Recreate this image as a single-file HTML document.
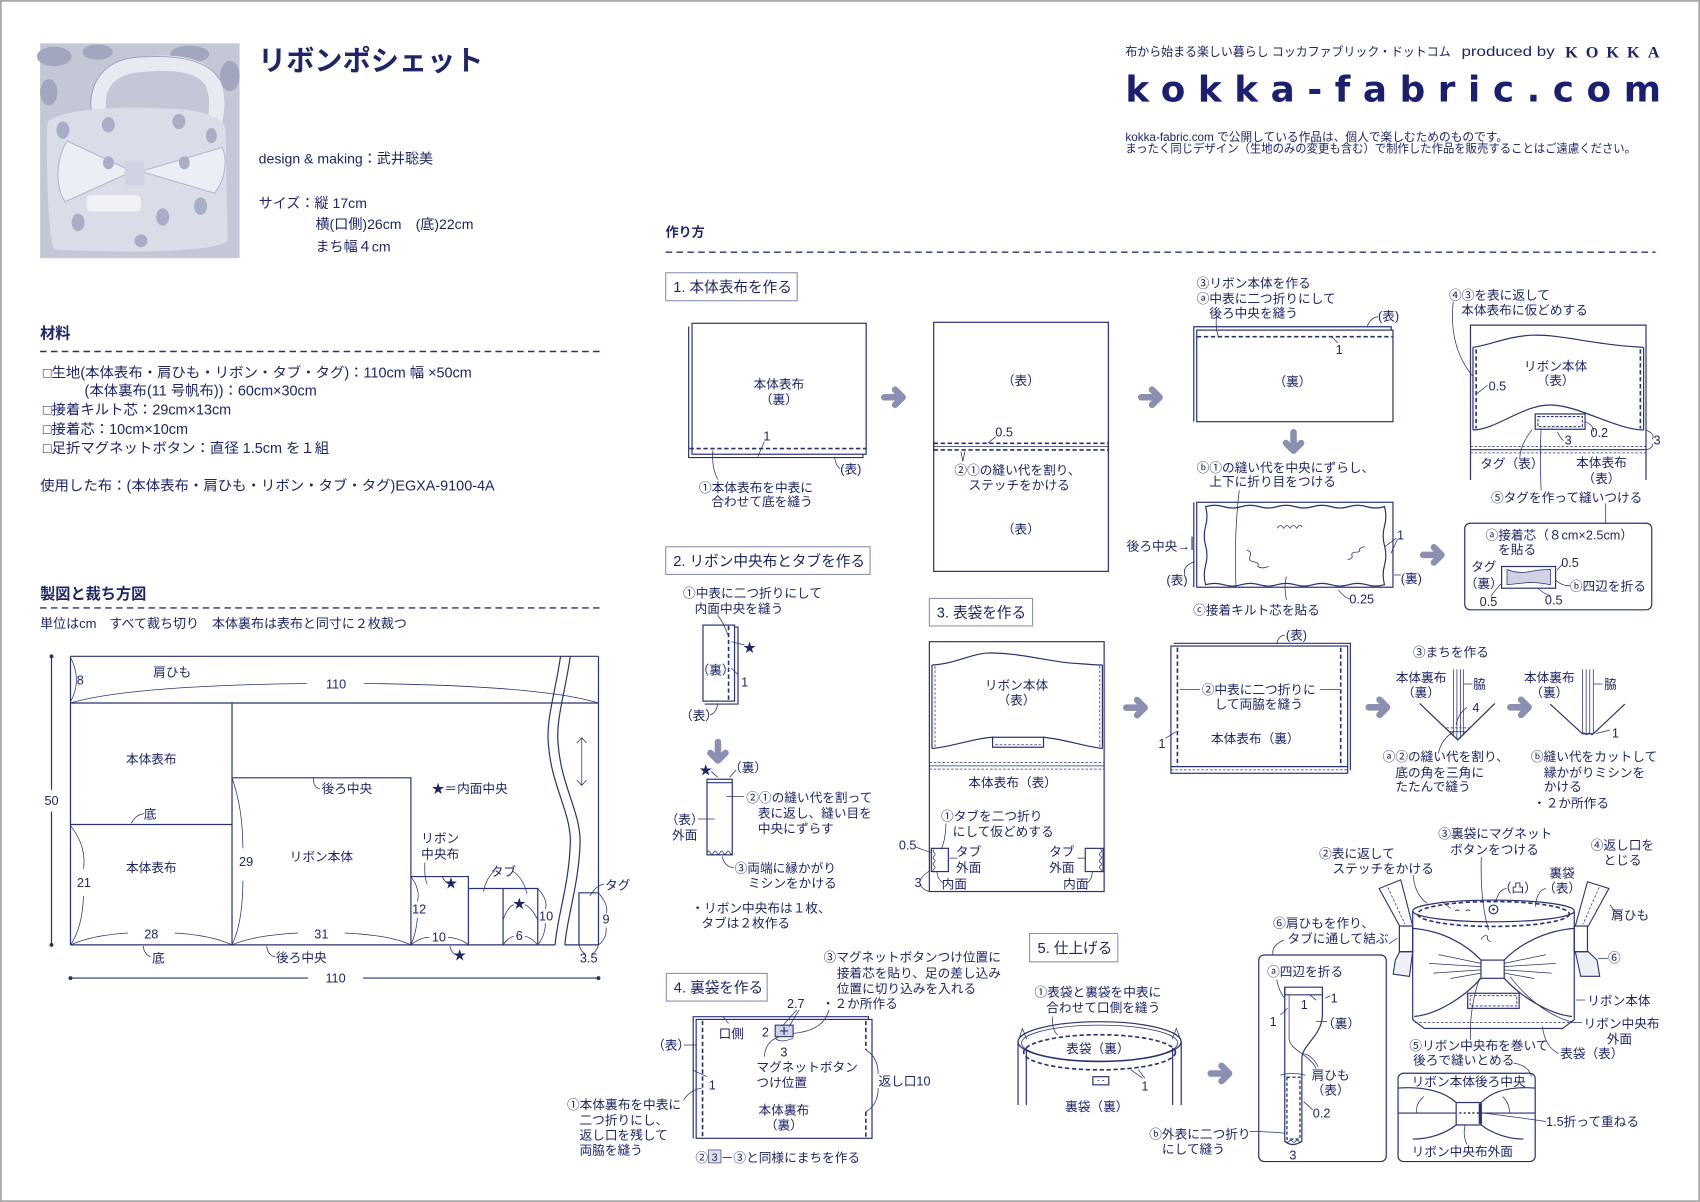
<!DOCTYPE html>
<html><head><meta charset="utf-8">
<style>
html,body{margin:0;padding:0;background:#fff;}
svg{display:block}
.t{font-family:"Liberation Sans","Noto Sans CJK JP",sans-serif;font-size:11.7px;fill:#1f2566}
.c{text-anchor:middle}
.l{stroke:#2a3172;stroke-width:1.1;fill:none}
.th{stroke-width:0.7}
.d{stroke:#2a3172;fill:none;stroke-dasharray:4 2.4;stroke-width:1.5}
.dt{stroke:#2a3172;fill:none;stroke-dasharray:2.4 1.6;stroke-width:0.7}
.bx{fill:none;stroke:#8a8fb5;stroke-width:1}
.dash{stroke:#2a3172;stroke-width:1.3;stroke-dasharray:6 4;fill:none}
.w{fill:#fff}
</style></head><body>
<svg width="1700" height="1202" viewBox="0 0 1568 1108" preserveAspectRatio="none" xmlns="http://www.w3.org/2000/svg">
<defs>
<g id="ar"><path d="M2,0 H17" stroke="#8b8fb2" stroke-width="6" stroke-linecap="round" fill="none"/><path d="M12,-7 L19,0 L12,7" stroke="#8b8fb2" stroke-width="6" stroke-linecap="round" stroke-linejoin="round" fill="none"/></g>
</defs>
<rect x="0.8" y="0.8" width="1566.4" height="1106.4" fill="#fff" stroke="#a8a8a8" stroke-width="1.6"/>

<!-- photo -->
<rect x="37" y="40" width="184" height="198" fill="#c4c7d6"/>
<g fill="#a2a7bf"><ellipse cx="50" cy="52" rx="16" ry="9"/><ellipse cx="90" cy="48" rx="14" ry="7"/><ellipse cx="175" cy="50" rx="18" ry="8"/><ellipse cx="212" cy="70" rx="9" ry="14"/><ellipse cx="45" cy="85" rx="8" ry="12"/></g>
<path d="M92,108 C86,82 98,64 124,60 C158,56 186,58 196,76 C202,90 200,102 198,112" stroke="#e8eaf2" stroke-width="14" fill="none"/>
<path d="M85,108 C79,80 94,56 124,53 C160,50 192,54 203,74" stroke="#9fa4bd" stroke-width="1" fill="none"/>
<path d="M44,112 C60,100 110,98 150,100 C185,100 205,108 208,118 L210,222 C200,232 120,234 50,230 C44,220 42,130 44,112 Z" fill="#dadde8"/>
<path d="M62,130 L122,158 L60,186 C50,170 52,145 62,130 Z" fill="#eceef5" stroke="#b4b8cc" stroke-width="1"/>
<path d="M205,136 L130,158 L198,178 C208,165 210,148 205,136 Z" fill="#eceef5" stroke="#b4b8cc" stroke-width="1"/>
<rect x="115" y="149" width="18" height="22" fill="#cfd2e0"/>
<rect x="80" y="180" width="50" height="15" rx="4" fill="#f1f2f7"/>
<g fill="#a9aec6"><ellipse cx="58" cy="120" rx="6" ry="8"/><ellipse cx="100" cy="115" rx="6" ry="7"/><ellipse cx="165" cy="112" rx="6" ry="7"/><ellipse cx="195" cy="125" rx="5" ry="7"/><ellipse cx="72" cy="205" rx="6" ry="8"/><ellipse cx="150" cy="200" rx="6" ry="8"/><ellipse cx="185" cy="190" rx="6" ry="8"/><ellipse cx="130" cy="222" rx="6" ry="6"/><ellipse cx="100" cy="150" rx="5" ry="6"/><ellipse cx="170" cy="150" rx="5" ry="6"/></g>

<!-- title block -->
<text class="t" x="238" y="65" style="font-size:26px;font-weight:bold">リボンポシェット</text>
<text class="t" x="238.6" y="150.6" style="font-size:13px">design &amp; making：武井聡美</text>
<text class="t" x="238.6" y="191.6" style="font-size:13px">サイズ：縦 17cm</text>
<text class="t" x="291" y="211.2" style="font-size:13px">横(口側)26cm　(底)22cm</text>
<text class="t" x="291" y="231.8" style="font-size:13px">まち幅４cm</text>

<text class="t" x="37" y="312" style="font-size:14px;font-weight:bold">材料</text>
<line class="dash" x1="37" y1="324" x2="553" y2="324"/>
<text class="t" x="39.5" y="347.8" style="font-size:13.3px">□生地(本体表布・肩ひも・リボン・タブ・タグ)：110cm 幅 ×50cm</text>
<text class="t" x="78" y="364.4" style="font-size:13.3px">(本体裏布(11 号帆布))：60cm×30cm</text>
<text class="t" x="39.5" y="382.2" style="font-size:13.3px">□接着キルト芯：29cm×13cm</text>
<text class="t" x="39.5" y="400" style="font-size:13.3px">□接着芯：10cm×10cm</text>
<text class="t" x="39.5" y="417.5" style="font-size:13.3px">□足折マグネットボタン：直径 1.5cm を１組</text>
<text class="t" x="37" y="452.2" style="font-size:13.3px">使用した布：(本体表布・肩ひも・リボン・タブ・タグ)EGXA-9100-4A</text>

<text class="t" x="37" y="552" style="font-size:14px;font-weight:bold">製図と裁ち方図</text>
<line class="dash" x1="37" y1="560.4" x2="553" y2="560.4"/>
<text class="t" x="37" y="579" style="font-size:12px">単位はcm　すべて裁ち切り　本体裏布は表布と同寸に２枚裁つ</text>

<!-- cutting diagram -->
<path class="l" d="M65,605 H552 M65,648 H552 M65,605 V871 M552,605 V871 M65,871 H512 M521,871 H552"/>
<path class="l" d="M517,605 C512,640 503,665 506,688 C509,725 527,750 526,777 C525,815 514,845 512,871"/>
<path class="l" d="M526,605 C521,640 512,665 515,688 C518,725 536,750 535,777 C534,815 523,845 521,871"/>
<path class="l" d="M214,648 V871 M65,760 H214 M214,717 H379 V871 M379,808 H432 V871 M432,819 H496 V871 M464,819 V871 M534,871 V823 H552"/>
<g class="l th">
<path d="M65,606 Q76,627 65,647"/>
<path d="M65,648 Q120,632 283,630 M336,630 Q500,632 552,648"/>
<path d="M121,759 Q125,751 133,750"/>
<path d="M65,761 Q80,780 77,801 M77,826 Q76,855 65,871"/>
<path d="M65,871 Q85,862 118,860 M161,860 Q195,862 214,871"/>
<path d="M132,872 Q133,880 139,882"/>
<path d="M289,717 Q289,726 295,727"/>
<path d="M214,717 Q224,745 224,782 M224,812 Q224,850 214,871"/>
<path d="M214,871 Q235,862 275,860 M318,860 Q360,862 379,871"/>
<path d="M246,872 Q247,881 254,882"/>
<path d="M392,795 Q391,808 394,815 M408,808 Q410,813 413,814"/>
<path d="M379,808 Q388,820 385,831 M385,846 Q384,860 379,871"/>
<path d="M379,871 Q388,864 396,864 M413,864 Q425,865 432,871"/>
<path d="M415,872 Q416,878 420,880"/>
<path d="M456,803 Q448,810 446,822 M473,803 Q483,810 486,824"/>
<path d="M464,848 Q468,836 474,834 M496,848 Q490,836 484,834"/>
<path d="M496,819 Q506,830 503,838 M503,851 Q503,862 496,871"/>
<path d="M464,871 Q469,864 474,863 M484,863 Q490,864 496,871"/>
<path d="M552,823 Q562,835 559,842 M559,855 Q560,865 552,871"/>
<path d="M534,871 Q536,878 540,879 M546,879 Q550,878 552,871"/>
<path d="M544,826 Q550,816 557,815"/>
<path d="M536.6,680 V724 M532,685 L536.6,680 L541,685 M532,719 L536.6,724 L541,719"/>
</g>
<path class="l" d="M47.5,605 V728 M47.5,748 V871 M65,901.6 H284 M335,901.6 H552"/>
<g fill="#2a3172"><circle cx="47.5" cy="605" r="1.8"/><circle cx="47.5" cy="871" r="1.8"/><circle cx="65" cy="901.6" r="1.8"/><circle cx="552" cy="901.6" r="1.8"/></g>
<g class="t">
<text class="c" x="158.8" y="623.4">肩ひも</text>
<text class="c" x="74" y="631">8</text>
<text class="c" x="310" y="634.7">110</text>
<text class="c" x="139.5" y="703.8">本体表布</text>
<text class="c" x="138.4" y="754.4">底</text>
<text class="c" x="139.5" y="803.6">本体表布</text>
<text class="c" x="77.4" y="817.7">21</text>
<text class="c" x="139.5" y="865">28</text>
<text class="c" x="146" y="887.2">底</text>
<text class="c" x="320" y="730.8">後ろ中央</text>
<text class="c" x="227" y="798.2">29</text>
<text class="c" x="296.4" y="793.7">リボン本体</text>
<text class="c" x="296.4" y="865">31</text>
<text class="c" x="278" y="886.8">後ろ中央</text>
<text class="c" x="433.3" y="730.8">★＝内面中央</text>
<text class="c" x="406" y="776.8">リボン</text>
<text class="c" x="406" y="791.2">中央布</text>
<text class="c" x="416" y="818.2">★</text>
<text class="c" x="386.6" y="842.2">12</text>
<text class="c" x="404.8" y="868">10</text>
<text class="c" x="424" y="884.5">★</text>
<text class="c" x="464.3" y="807.6">タブ</text>
<text class="c" x="479" y="837.2">★</text>
<text class="c" x="503.7" y="848.4">10</text>
<text class="c" x="479" y="866.7">6</text>
<text x="558" y="819.8">タグ</text>
<text class="c" x="559" y="851.5">9</text>
<text class="c" x="543" y="887.2">3.5</text>
<text class="c" x="47.5" y="742.2">50</text>
<text class="c" x="309.5" y="905.8">110</text>
</g>

<!-- 作り方 header -->
<text class="t" x="614" y="218" style="font-size:12px;font-weight:bold">作り方</text>
<line class="dash" x1="614" y1="232.5" x2="1527" y2="232.5"/>

<!-- header right -->
<text class="t" x="1038" y="51.8" style="font-size:11.4px" textLength="300" lengthAdjust="spacingAndGlyphs">布から始まる楽しい暮らし コッカファブリック・ドットコム</text>
<text class="t" x="1348" y="51.8" style="font-size:13px" textLength="86" lengthAdjust="spacingAndGlyphs">produced by</text>
<text x="1443.6" y="53.2" style="font-family:'Liberation Serif',serif;font-size:15px;font-weight:bold;fill:#1f2566" textLength="87" lengthAdjust="spacing">KOKKA</text>
<text x="1038" y="93.6" style="font-family:'DejaVu Sans','Liberation Sans',sans-serif;font-size:33px;font-weight:bold;fill:#1b1f72" textLength="494" lengthAdjust="spacing">kokka-fabric.com</text>
<text class="t" x="1038" y="129.8" style="font-size:10.8px">kokka-fabric.com で公開している作品は、個人で楽しむためのものです。</text>
<text class="t" x="1038" y="140.6" style="font-size:10.8px" textLength="471" lengthAdjust="spacingAndGlyphs">まったく同じデザイン（生地のみの変更も含む）で制作した作品を販売することはご遠慮ください。</text>

<!-- STEP 1 -->
<rect class="bx" x="614" y="251.4" width="121.3" height="25.8"/>
<text class="t" x="621" y="269" style="font-size:13.5px">1. 本体表布を作る</text>
<path class="l" d="M635.2,301 V421.8 H795.9 V419"/>
<rect class="l w" x="638.3" y="298" width="160.6" height="120.7"/>
<line class="d" x1="636" y1="413.5" x2="799" y2="413.5"/>
<g class="l th"><path d="M705,407 L699,421"/><path d="M769.7,421 Q771,430 775,432"/><path d="M657.6,415 Q656,430 662,442"/></g>
<g class="t">
<text class="c" x="718.4" y="358.2">本体表布</text>
<text class="c" x="718.4" y="372.2">（裏）</text>
<text class="c" x="707.4" y="406">1</text>
<text x="775" y="436.7">(表)</text>
<text x="644.7" y="453.6">①本体表布を中表に</text>
<text x="656.1" y="466.5">合わせて底を縫う</text>
</g>
<use href="#ar" x="813.6" y="366.2"/>
<rect class="l" x="861.2" y="297.1" width="161.1" height="229.6"/>
<line class="d" x1="861.2" y1="408.6" x2="1022.3" y2="408.6"/>
<line class="d" x1="861.2" y1="414.7" x2="1022.3" y2="414.7"/>
<line class="l th" x1="861.2" y1="411.6" x2="1022.3" y2="411.6"/>
<path class="l" d="M861.2,406 V417 M1022.3,406 V417" stroke-width="2"/>
<g class="l th"><path d="M918.6,402.4 L911,408.5"/><path d="M886.3,416.2 L888,425.4 L890,416.2"/></g>
<g class="t">
<text class="c" x="941.6" y="355">（表）</text>
<text x="918" y="402.3">0.5</text>
<text class="c" x="938.5" y="437.3">②①の縫い代を割り、</text>
<text class="c" x="940" y="451.2">ステッチをかける</text>
<text class="c" x="941.6" y="492">（表）</text>
</g>
<use href="#ar" x="1050.6" y="366.2"/>

<!-- ribbon body -->
<path class="l" d="M1101.1,388.7 V301.2 H1283.2 V304.3"/>
<rect class="l w" x="1103.8" y="304.3" width="181" height="84.4"/>
<line class="d" x1="1104" y1="310.4" x2="1285" y2="310.4"/>
<g class="l th"><path d="M1261,301 Q1264,293 1271,292"/><path d="M1122,292 Q1121,302 1123.6,310"/><path d="M1228,310.4 L1234,316"/></g>
<g class="t">
<text x="1103.8" y="264.9">③リボン本体を作る</text>
<text x="1103.8" y="279.2">ⓐ中表に二つ折りにして</text>
<text x="1115.4" y="292.5">後ろ中央を縫う</text>
<text x="1271" y="295.6">(表)</text>
<text class="c" x="1235.2" y="326.2">1</text>
<text class="c" x="1192.1" y="356">（裏）</text>
</g>
<use href="#ar" transform="translate(1193.1,396.4) rotate(90)"/>
<g class="t">
<text x="1103.8" y="435.2">ⓑ①の縫い代を中央にずらし、</text>
<text x="1115.4" y="448.2">上下に折り目をつける</text>
</g>
<path class="l" d="M1101.1,463 V541.3"/>
<rect class="l" x="1103.8" y="463" width="181" height="78.3"/>
<path class="l" stroke-width="2.2" d="M1099.5,494.6 V507"/>
<path class="l" d="M1112,467 q8.25,-2.5 16.5,0 t16.5,0 t16.5,0 t16.5,0 t16.5,0 t16.5,0 t16.5,0 t16.5,0 t16.5,0 t16.5,0 q2.5,9 0,18 t0,18 t0,18 t0,18 q-8.25,2.5 -16.5,0 t-16.5,0 t-16.5,0 t-16.5,0 t-16.5,0 t-16.5,0 t-16.5,0 t-16.5,0 t-16.5,0 t-16.5,0 q-2.5,-9 0,-18 t0,-18 t0,-18 t0,-18 z"/>
<g class="l th">
<path d="M1178,487 q3,-5 6,0 q3,-5 6,0 q3,-5 6,0 q3,-5 5,-1"/>
<path d="M1150,507 q5,2 3,6 q-2,4 4,5 q5,1 3,4 q4,3 10,0"/>
<path d="M1243,516 q5,-1 4,-4 q-1,-3 4,-3 q4,0 3,-3 q2,-2 5,-2"/>
<path d="M1143,452 Q1138,495 1140,541"/>
<path d="M1102,517.6 Q1090,522 1093,530"/>
<path d="M1277.5,503.8 L1288,496 M1283,510 L1289,497"/>
<path d="M1285.8,530 L1292,530"/>
<path d="M1234.5,543.7 Q1240,551 1245,552"/>
<path d="M1186.5,553 Q1184,540 1186.5,531.4"/>
</g>
<g class="t">
<text x="1039.2" y="507.4">後ろ中央→</text>
<text class="c" x="1085.6" y="538.7">(表)</text>
<text class="c" x="1291.8" y="497.2">1</text>
<text x="1292" y="537.2">(裏)</text>
<text class="c" x="1256" y="556.5">0.25</text>
<text x="1100.5" y="566.3">ⓒ接着キルト芯を貼る</text>
</g>
<use href="#ar" x="1310.6" y="511.5"/>

<!-- step1 col4 -->
<g class="t">
<text x="1336.5" y="276.2">④③を表に返して</text>
<text x="1347.7" y="290">本体表布に仮どめする</text>
</g>
<path class="l th" d="M1340.4,278 Q1336,320 1358.6,347"/>
<path class="l" d="M1356.3,442.4 V299.7 H1518.2 V442.4"/>
<path class="l" d="M1358.6,320.2 C1375,318 1390,310 1413,309 C1440,308 1470,318 1516,320.2"/>
<path class="l" d="M1358.6,396.4 C1380,396 1405,373 1430,373.3 C1455,373 1490,396 1516,396.4"/>
<path class="l" d="M1358.6,320.2 V396.4 M1516,320.2 V396.4"/>
<path class="d" d="M1361.5,322 V395 M1513,322 V395"/>
<path class="dt" d="M1356.3,411.5 H1518.2 M1356.3,417.5 H1518.2"/>
<line class="l" x1="1356.3" y1="414.5" x2="1518.2" y2="414.5"/>
<rect class="l w" x="1416" y="381.6" width="46" height="14.1"/>
<rect x="1418.5" y="384" width="41" height="9.3" fill="none" stroke="#2a3172" stroke-width="1" stroke-dasharray="2.5 1.5"/>
<g class="l th">
<path d="M1362,363 L1372,355"/>
<path d="M1462,388.7 Q1470,392 1470,398"/>
<path d="M1436.4,398 Q1440,405 1442,406"/>
<path d="M1518,396.4 Q1527,400 1524,405 M1524,409 Q1525,413 1518,414.8"/>
<path d="M1413,396.4 Q1402,410 1401.7,423"/>
<path d="M1421.5,395 Q1420,420 1421.5,452"/>
<path d="M1481,464 V482.3"/>
</g>
<g class="t">
<text class="c" x="1434.8" y="341.6">リボン本体</text>
<text class="c" x="1434.8" y="355.1">（表）</text>
<text x="1373" y="360">0.5</text>
<text x="1467" y="403">0.2</text>
<text class="c" x="1446.4" y="409.8">3</text>
<text class="c" x="1528.4" y="409.8">3</text>
<text x="1365.3" y="431.2">タグ（表）</text>
<text class="c" x="1477.1" y="430.6">本体表布</text>
<text class="c" x="1477.1" y="445.1">（表）</text>
<text x="1375.2" y="462.9">⑤タグを作って縫いつける</text>
</g>
<rect class="l" x="1351" y="482.3" width="172.5" height="79.8" rx="5"/>
<g class="t">
<text x="1370.2" y="497.3">ⓐ接着芯（８cm×2.5cm）</text>
<text x="1381.8" y="510.5">を貼る</text>
<text class="c" x="1368.6" y="526.4">タグ</text>
<text class="c" x="1368.6" y="541.8">（裏）</text>
<text x="1440" y="522.7">0.5</text>
<text x="1448" y="544.2">ⓑ四辺を折る</text>
<text class="c" x="1372.9" y="558.7">0.5</text>
<text class="c" x="1433.1" y="557.2">0.5</text>
</g>
<rect class="l" x="1385" y="522.2" width="49.8" height="20"/>
<path d="M1390,525 Q1400,529 1410,527 Q1420,525 1430,525 V539 Q1420,537 1410,537 Q1400,538 1390,539 Z" fill="#cfd2e3" stroke="#2a3172" stroke-width="0.7"/>
<g class="l th">
<path d="M1436.4,525.3 L1441,520"/>
<path d="M1434.8,534.5 Q1440,540 1448,540"/>
<path d="M1385,537.6 Q1378,545 1375,550"/>
<path d="M1418,542 Q1425,548 1430,549"/>
</g>

<!-- STEP 2 -->
<rect class="bx" x="614" y="504" width="188.5" height="25.5"/>
<text class="t" x="621" y="521.7" style="font-size:13.5px">2. リボン中央布とタブを作る</text>
<g class="t">
<text x="630" y="550.6">①中表に二つ折りにして</text>
<text x="640.7" y="565.2">内面中央を縫う</text>
</g>
<path class="l" d="M651,578 H680.7 V649 H650"/>
<rect class="l w" x="648.4" y="576.2" width="29.1" height="70.1"/>
<line class="d" x1="672" y1="577" x2="672" y2="646"/>
<g class="l th">
<path d="M662,567 Q668,575 671.4,585.4"/>
<path d="M674.5,591.5 L686.8,594.6"/>
<path d="M674.5,616 L681,622"/>
<path d="M662,648.3 Q661,657 655,659"/>
</g>
<g class="t">
<text class="c" x="691.4" y="601">★</text>
<text class="c" x="660" y="621.8">（裏）</text>
<text class="c" x="686.8" y="632.6">1</text>
<text class="c" x="644.7" y="663.9">（表）</text>
</g>
<use href="#ar" transform="translate(662.2,682) rotate(90)"/>
<rect class="l" x="652.1" y="718.3" width="23.3" height="69.7"/>
<line class="l" x1="652.1" y1="721.5" x2="675.4" y2="721.5"/>
<path class="l th" d="M652.1,786 q1.5,-3 3,0 t3,0 t3,0 t3,0 t3,0 t3,0 t3,0 t2.3,0"/>
<g class="l th">
<path d="M656,711 L662,716.5 M679,709.7 L673,716.5"/>
<path d="M670,734.3 H686"/>
<path d="M643.8,755 H659.2"/>
<path d="M666.2,789.5 Q668,799 677,800"/>
</g>
<g class="t">
<text class="c" x="650.9" y="713.9">★</text>
<text class="c" x="690" y="711.8">（裏）</text>
<text x="688.3" y="739.4">②①の縫い代を割って</text>
<text x="699" y="753.8">表に返し、縫い目を</text>
<text x="699" y="767.7">中央にずらす</text>
<text class="c" x="631.5" y="759.4">（表）</text>
<text class="c" x="631.5" y="773.8">外面</text>
<text x="677.6" y="804.5">③両端に縁かがり</text>
<text x="689.9" y="818.3">ミシンをかける</text>
<text x="637.7" y="841.3">・リボン中央布は１枚、</text>
<text x="646.9" y="855.2">タブは２枚作る</text>
</g>

<!-- STEP 3 -->
<rect class="bx" x="857.2" y="551.6" width="95.2" height="25.4"/>
<text class="t" x="864" y="569.2" style="font-size:13.5px">3. 表袋を作る</text>
<rect class="l" x="857.2" y="591.5" width="161.2" height="230.3"/>
<path class="l" d="M859.6,613 C880,612 895,603 910,602 C935,601 965,609 985,611 C1000,612 1010,613 1016.8,613"/>
<path class="l" d="M859.6,690 C880,688 900,680 917,679.6 M962,679.6 C980,681 1000,688 1016.8,690"/>
<path class="l" d="M859.6,613 V690 M1016.8,613 V690"/>
<path class="dt" d="M862.4,614 V689 M1014.4,614 V689"/>
<rect class="l" x="915.5" y="679.6" width="47" height="9.2"/>
<path class="dt" d="M918,686.5 H960"/>
<path class="dt" d="M857.2,703 H1018.4 M857.2,709 H1018.4"/>
<line class="l th" x1="857.2" y1="706" x2="1018.4" y2="706"/>
<rect class="l" x="859" y="782" width="15.7" height="21.4"/>
<rect class="l" x="1001" y="782" width="16.4" height="21.4"/>
<path class="l th" d="M861.5,783 q-2,1.5 0,3 t0,3 t0,3 t0,3 t0,3 t0,3 t0,3 M1015,783 q2,1.5 0,3 t0,3 t0,3 t0,3 t0,3 t0,3 t0,3"/>
<g class="l th">
<path d="M872.5,759 Q872,775 868,783"/>
<path d="M875.6,791 H883"/>
<path d="M993.8,791 H1001"/>
<path d="M845,781 L859,786"/>
<path d="M857,803 Q850,808 849,811 M849,816 Q851,820 857,821.8"/>
<path d="M864,803 Q865,812 871,814"/>
<path d="M1007.6,803 Q1007,812 1002,814"/>
</g>
<g class="t">
<text class="c" x="937.6" y="635.7">リボン本体</text>
<text class="c" x="937.6" y="649.5">（表）</text>
<text class="c" x="934" y="725.6">本体表布（表）</text>
<text x="868" y="756.2">①タブを二つ折り</text>
<text x="878.7" y="770.7">にして仮どめする</text>
<text class="c" x="893.4" y="789.2">タブ</text>
<text class="c" x="893.4" y="803.6">外面</text>
<text class="c" x="979.4" y="789.2">タブ</text>
<text class="c" x="979.4" y="803.6">外面</text>
<text class="c" x="837.2" y="783.2">0.5</text>
<text class="c" x="846.7" y="817.7">3</text>
<text class="c" x="880.2" y="818.9">内面</text>
<text class="c" x="992.3" y="818.9">内面</text>
</g>
<use href="#ar" x="1036.8" y="652.3"/>
<path class="l" d="M1082.6,593 H1245.5 V710"/>
<rect class="l w" x="1080" y="595.5" width="163" height="117.3"/>
<line class="l" x1="1080" y1="706.7" x2="1243" y2="706.7"/>
<path class="dt" d="M1080,709.7 H1243"/>
<path class="d" d="M1086,597 V706 M1236.6,597 V706"/>
<g class="l th">
<path d="M1177.6,593.7 Q1179,586 1185,585.4"/>
<path d="M1088.2,635.5 H1106.5 M1217.3,635.5 H1235.5"/>
<path d="M1075,680.6 L1085,674.4"/>
</g>
<g class="t">
<text class="c" x="1195.8" y="589.6">(表)</text>
<text class="c" x="1161" y="639.7">②中表に二つ折りに</text>
<text class="c" x="1161" y="653.2">して両脇を縫う</text>
<text class="c" x="1071.7" y="689.4">1</text>
<text class="c" x="1157.8" y="684.8">本体表布（裏）</text>
</g>
<use href="#ar" x="1260.4" y="652"/>
<g class="t">
<text class="c" x="1338.2" y="605">③まちを作る</text>
<text class="c" x="1310.7" y="628.6">本体裏布</text>
<text class="c" x="1310.7" y="642.7">（裏）</text>
<text class="c" x="1364.6" y="634.7">脇</text>
<text class="c" x="1361.3" y="656.2">4</text>
<text x="1275.3" y="701.7">ⓐ②の縫い代を割り、</text>
<text x="1287" y="716.1">底の角を三角に</text>
<text x="1287" y="729.3">たたんで縫う</text>
</g>
<path class="l" d="M1309.4,648.4 L1344.6,682 L1378.8,648.4"/>
<path class="l th" d="M1340.5,617 V678 M1343.8,617 V681 M1347,617 V681 M1349.7,617 V678"/>
<path class="dt" d="M1334,671 H1355"/>
<line class="l th" x1="1337" y1="674.5" x2="1352" y2="674.5"/>
<g class="l th">
<path d="M1350.4,630.5 H1358"/>
<path d="M1353,652 Q1345,658 1343,668"/>
<path d="M1326.6,694.4 Q1330,680 1341.5,674.4"/>
</g>
<use href="#ar" x="1391" y="652"/>
<g class="t">
<text class="c" x="1429" y="628.6">本体裏布</text>
<text class="c" x="1429" y="642.7">（裏）</text>
<text class="c" x="1485.4" y="634.7">脇</text>
<text class="c" x="1490" y="679.6">1</text>
<text x="1412" y="701.7">ⓑ縫い代をカットして</text>
<text x="1424" y="716.2">縁かがりミシンを</text>
<text x="1424" y="729.3">かける</text>
<text x="1414" y="744.2">・２か所作る</text>
</g>
<path class="l" d="M1429.8,649 L1459.6,676.4 H1469.6 L1498.7,649"/>
<path class="l th" d="M1459.6,617 V676 M1463,617 V676 M1466.3,617 V676 M1469.6,617 V676"/>
<path class="l th" d="M1459.6,676.4 q1.2,-2 2.5,0 t2.5,0 t2.5,0 t2.5,0"/>
<path class="l th" d="M1470,630.5 H1478 M1472.2,676 L1485,673"/>

<!-- STEP 4 -->
<rect class="bx" x="614.6" y="897.3" width="93" height="25.5"/>
<text class="t" x="621.5" y="915" style="font-size:13.5px">4. 裏袋を作る</text>
<g class="t">
<text x="759.6" y="886.2">③マグネットボタンつけ位置に</text>
<text x="771.8" y="900.9">接着芯を貼り、足の差し込み</text>
<text x="771.8" y="915.3">位置に切り込みを入れる</text>
<text class="c" x="734" y="929.2">2.7</text>
<text x="758" y="929.2">・２か所作る</text>
</g>
<path class="l" d="M639.4,1049.3 V937.2 H801 V939.7"/>
<rect class="l w" x="642.1" y="939.7" width="162.2" height="109.6"/>
<path class="d" d="M648,941 V1049 M798.6,941 V968 M798.6,1024.7 V1049"/>
<rect x="715" y="945" width="16.5" height="10.6" fill="#d0d3e3" stroke="#2a3172" stroke-width="1"/>
<path class="l" d="M723.2,946.5 V954 M719.5,950.3 H727" stroke-width="1.4"/>
<g class="l th">
<path d="M667,937.2 L672,943.4"/>
<path d="M734.8,931 L721.5,946 M737,931 L728,946"/>
<path d="M764.5,931 Q760,950 731.5,952.6"/>
<path d="M715,957 Q720,962 731.5,957"/>
<path d="M705,974 Q706,960 718,956"/>
<path d="M630.5,963.3 H642"/>
<path d="M638.8,986.3 L652,992.5"/>
<path d="M799,968 Q810,975 810,990 M810,1003 Q810,1018 799,1024.7"/>
<path d="M630.5,1014 Q636,1005 647,1003"/>
</g>
<g class="t">
<text class="c" x="674.5" y="956.8">口側</text>
<text class="c" x="706" y="955.3">2</text>
<text class="c" x="723" y="973.7">3</text>
<text x="697.7" y="987.5">マグネットボタン</text>
<text x="697.7" y="1002.2">つけ位置</text>
<text class="c" x="723" y="1027.4">本体裏布</text>
<text class="c" x="723" y="1041.2">（裏）</text>
<text class="c" x="619" y="967.5">（表）</text>
<text class="c" x="657" y="1004.4">1</text>
<text x="810.2" y="1000.4">返し口10</text>
<text x="523" y="1022.2">①本体裏布を中表に</text>
<text x="534.5" y="1036.6">二つ折りにし、</text>
<text x="534.5" y="1050.4">返し口を残して</text>
<text x="534.5" y="1064.2">両脇を縫う</text>
<text x="641.4" y="1071">②<tspan fill="#1f2566">３</tspan>－③と同様にまちを作る</text>
</g>
<rect x="653.5" y="1060" width="11.5" height="12" fill="#dfe1ea" stroke="#2a3172" stroke-width="0.6"/>
<text class="t" x="659.2" y="1070.2" text-anchor="middle" style="font-size:10px">3</text>

<!-- STEP 5 -->
<rect class="bx" x="949.6" y="860.5" width="81.4" height="26.1"/>
<text class="t" x="957" y="878.3" style="font-size:13.5px">5. 仕上げる</text>
<g class="t">
<text x="954.2" y="918.4">①表袋と裏袋を中表に</text>
<text x="965" y="932.8">合わせて口側を縫う</text>
</g>
<path class="l th" d="M971,937.2 Q970,950 975.7,954"/>
<path class="l" d="M939,960 V1018.6 M1089.5,960 V1018.6 M946.6,966 V1018.6 M1081.6,966 V1018.6"/>
<ellipse class="l" cx="1014.2" cy="960.2" rx="75.2" ry="18.4"/>
<ellipse class="l th" cx="1014.2" cy="961.5" rx="72" ry="16.5"/>
<ellipse class="d" cx="1014.2" cy="970" rx="70" ry="16.2"/>
<path class="l th" d="M939,960 L943,948 L947,958 M1089.5,960 L1085,948 L1081,958"/>
<rect class="l" x="1008" y="992.5" width="14.7" height="7.5"/>
<path class="l th" d="M1012,996 H1014 M1016.5,996 H1018.5"/>
<path class="l th" d="M1043,986 L1054,994 M1050,986 L1056,994"/>
<g class="t">
<text class="c" x="1012.6" y="970.6">表袋（裏）</text>
<text class="c" x="1056" y="1005.3">1</text>
<text class="c" x="1011.6" y="1024.3">裏袋（裏）</text>
<text x="1060" y="1049.5">ⓑ外表に二つ折り</text>
<text x="1071.7" y="1063.5">にして縫う</text>
</g>
<use href="#ar" x="1114.7" y="989.5"/>

<!-- strap box -->
<g class="t">
<text x="1174.3" y="855.2">⑥肩ひもを作り、</text>
<text x="1187.5" y="869.2">タブに通して結ぶ</text>
</g>
<path class="l th" d="M1184.2,866.5 Q1172,872 1174.3,880.3"/>
<rect class="l" x="1161" y="880.3" width="117.6" height="190.4" rx="5"/>
<text class="t" x="1168.7" y="899.9">ⓐ四辺を折る</text>
<path class="l" d="M1185,910 H1219.7 V917 H1185 Z"/>
<path class="l" d="M1185,910 V1052 Q1192,1058 1200.8,1052 V975 C1202,962 1219,955 1219.7,936 V917"/>
<path class="l th" d="M1189,917 V958 C1190,968 1208,972 1214,985"/>
<path class="l th" d="M1181,991 Q1192,988 1204,991"/>
<rect x="1187" y="993" width="12" height="57" fill="none" stroke="#2a3172" stroke-width="1.2" stroke-dasharray="3 2"/>
<path class="l th" d="M1186,1052 q1.5,2 3,0 t3,0 t3,0 t3,0 t3,0"/>
<g class="l th">
<path d="M1177.6,903 Q1180,915 1185,920"/>
<path d="M1214,922 L1208,917 M1222.3,920 L1227,918"/>
<path d="M1181,935.6 L1187.5,929.4"/>
<path d="M1224,941.7 H1214"/>
<path d="M1215.7,983 Q1210,972 1200.8,971"/>
<path d="M1210.7,1023 L1202.4,1015.4"/>
<path d="M1152.8,1043 Q1170,1043 1185,1044.6"/>
</g>
<g class="t">
<text class="c" x="1203" y="930">1</text>
<text class="c" x="1230.6" y="924.2">1</text>
<text class="c" x="1174.3" y="945.9">1</text>
<text class="c" x="1237" y="947.5">（裏）</text>
<text class="c" x="1227.3" y="995.1">肩ひも</text>
<text class="c" x="1227.3" y="1008.9">（表）</text>
<text class="c" x="1219" y="1030.2">0.2</text>
<text class="c" x="1192.5" y="1068.7">3</text>
</g>

<!-- finished bag -->
<g class="t">
<text x="1216.7" y="790.9">②表に返して</text>
<text x="1229" y="804.7">ステッチをかける</text>
<text x="1326.6" y="772.5">③裏袋にマグネット</text>
<text x="1337.5" y="787.2">ボタンをつける</text>
<text x="1467.2" y="783.2">④返し口を</text>
<text x="1479" y="797">とじる</text>
<text class="c" x="1440.8" y="808.7">裏袋</text>
<text class="c" x="1440.8" y="822.5">（表）</text>
<text class="c" x="1400" y="822.5">（凸）</text>
<text class="c" x="1349" y="846.8">0.9</text>
<text class="c" x="1358" y="867.7">（凹）</text>
<text class="c" x="1503.6" y="847.7">肩ひも</text>
<text class="c" x="1489" y="886.7">⑥</text>
<text x="1464" y="926.6">リボン本体</text>
<text x="1460.6" y="947.5">リボン中央布</text>
<text class="c" x="1493.7" y="961.9">外面</text>
<text x="1300" y="968">⑤リボン中央布を巻いて</text>
<text x="1303.4" y="981.2">後ろで縫いとめる</text>
<text x="1439" y="975.2">表袋（表）</text>
</g>
<!-- straps -->
<path d="M1272,819 L1292,811 L1303,853.6 L1291,853.6 Z" fill="#fff" stroke="#2a3172" stroke-width="1"/>
<path class="dt" d="M1280,818 L1296,852"/>
<path d="M1291,877.3 L1303,877.3 L1300,900 L1285,898 L1287,885 Z" fill="#eef0f5" stroke="#2a3172" stroke-width="1"/>
<path d="M1464.2,812.8 L1484,819 L1465,853.6 L1453,853.6 Z" fill="#fff" stroke="#2a3172" stroke-width="1"/>
<path class="dt" d="M1475,818 L1460,852"/>
<path d="M1453,877.3 L1465,877.3 L1473,885 L1475.5,900 L1458,900 Z" fill="#eef0f5" stroke="#2a3172" stroke-width="1"/>
<!-- bag body -->
<path class="l w" d="M1303,839.7 V940 L1313.8,948 H1441.2 L1452,940 V839.7"/>
<ellipse class="l" cx="1377.5" cy="839.7" rx="74.5" ry="10"/>
<ellipse class="d" cx="1377.5" cy="842.5" rx="70" ry="11.5"/>
<rect class="l" x="1290.7" y="853.6" width="12.3" height="23.7"/>
<rect class="l" x="1452" y="853.6" width="12.2" height="23.7"/>
<circle class="l" cx="1377.5" cy="838.3" r="4"/><circle cx="1377.5" cy="838.3" r="1.2" fill="#2a3172"/>
<path class="l" d="M1303,855.8 C1330,858 1352,870 1366,885 M1452,855.8 C1425,858 1402,870 1387.4,885"/>
<path class="l" d="M1366,901.8 C1350,920 1325,935 1304.5,937 M1387.4,901.8 C1404,920 1430,935 1450,937"/>
<rect class="l" x="1366" y="885" width="21.4" height="16.8"/>
<g class="l th">
<path d="M1318,888 L1366,891 M1327,880 L1366,888 M1322,897 L1366,894 M1338,902 L1366,897"/>
<path d="M1435,888 L1387.4,891 M1426,880 L1387.4,888 M1431,897 L1387.4,894 M1415,902 L1387.4,897"/>
</g>
<rect class="l" x="1353.7" y="915.6" width="47.5" height="13.9"/>
<rect x="1356" y="917.8" width="43" height="9.5" fill="none" stroke="#2a3172" stroke-width="0.8" stroke-dasharray="2.5 1.5"/>
<path class="dt" d="M1305,942.6 H1450"/>
<g class="l th">
<path d="M1303.4,806.7 Q1305,825 1316.6,832.8"/>
<path d="M1366.3,789.8 Q1365,830 1373,857.3"/>
<path d="M1415.9,835.8 Q1418,820 1426,819"/>
<path d="M1379.5,832 Q1382,820 1389.5,819"/>
<path d="M1329.9,831 L1338,837.4"/>
<path d="M1485,834 Q1490,842 1495,843.5"/>
<path d="M1474,883.4 H1483"/>
<path d="M1454,921.8 H1462"/>
<path d="M1392.8,900.3 Q1420,935 1452.3,942.7 H1459"/>
<path d="M1356.4,958.6 Q1355,930 1364.6,901.8"/>
<path d="M1396,980 Q1410,982 1412.6,992.4"/>
<path d="M1422.6,946 Q1425,965 1437.4,971"/>
<path d="M1288.5,865 L1281,870"/>
<path d="M1366,866 q3,-5 6,-3 q-1,4 3,5"/>
</g>
<!-- ribbon back box -->
<rect class="l" x="1289.5" y="989.3" width="126.5" height="81.4" rx="5"/>
<g class="l">
<path d="M1289.5,1003 C1315,1001 1333,1007 1343.1,1016.3 M1416,1003 C1390,1001 1375,1007 1366.3,1016.3"/>
<path d="M1289.5,1026 H1343.1 M1366.3,1026 H1416"/>
<path d="M1343.1,1037 C1333,1045 1318,1050 1303,1050 M1366.3,1037 C1376,1045 1392,1050 1405,1050"/>
</g>
<rect class="l w" x="1343.1" y="1016.3" width="23.2" height="20.7"/>
<path d="M1346,1026 H1364" stroke="#2a3172" stroke-width="1.4" stroke-dasharray="2 2"/>
<line x1="1365" y1="1017" x2="1365" y2="1036" stroke="#2a3172" stroke-width="2.2"/>
<g class="l th">
<path d="M1313.3,1010.8 Q1305,1018 1307,1026 M1386,1010.8 Q1393,1018 1392,1026"/>
<path d="M1368,1026 Q1400,1030 1426,1033.8"/>
<path d="M1351.4,1037 Q1349,1046 1353,1055"/>
</g>
<g class="t">
<text x="1302" y="1001.2">リボン本体後ろ中央</text>
<text x="1426" y="1038">1.5折って重ねる</text>
<text x="1302" y="1065.7">リボン中央布外面</text>
</g>
</svg>
</body></html>
